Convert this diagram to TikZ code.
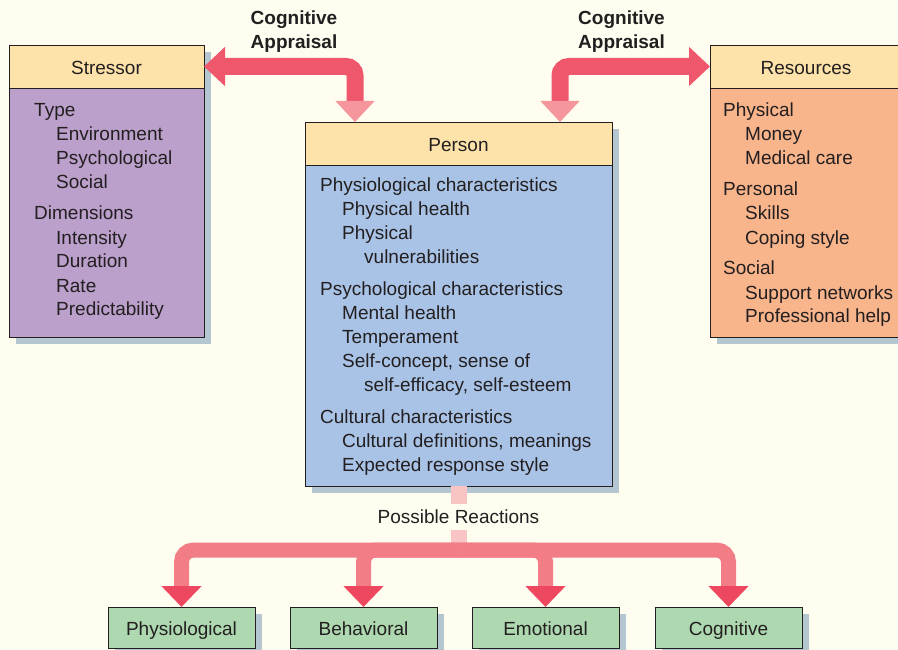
\documentclass[tikz,border=0pt]{standalone}
\usepackage{fontspec}
\setmainfont{Liberation Sans}
\usetikzlibrary{arrows.meta, calc, positioning}

\definecolor{bgcream}{RGB}{255,253,240}
\definecolor{headtan}{RGB}{253,226,170}
\definecolor{stresspurple}{RGB}{187,160,203}
\definecolor{personblue}{RGB}{169,195,230}
\definecolor{resorange}{RGB}{248,180,138}
\definecolor{reactgreen}{RGB}{173,216,176}
\definecolor{shadowgray}{RGB}{180,198,207}
\definecolor{inkgray}{RGB}{35,31,32}
\definecolor{arrowred}{RGB}{239,88,108}
\definecolor{arrowpink}{RGB}{245,150,156}
\definecolor{stempink}{RGB}{248,196,196}
\definecolor{branchred}{RGB}{242,125,135}
\definecolor{tipred}{RGB}{237,72,96}

\begin{document}
\begin{tikzpicture}[x=1pt, y=-1pt,
  every node/.style={font=\fontsize{19}{24}\selectfont, text=inkgray},
  box/.style={draw=inkgray, line width=0.9pt, rectangle, inner sep=0pt, outer sep=0pt,
    text height=16pt, text depth=0pt,
    preaction={fill=shadowgray, transform canvas={xshift=7pt, yshift=-7pt}}},
  item/.style={anchor=base west, inner sep=0pt},
  appraisal/.style={align=center, font=\fontsize{19}{24}\selectfont\bfseries},
  topflow/.style={line width=17pt, arrowred, rounded corners=9pt},
  fanflow/.style={line width=15pt, branchred, rounded corners=12pt,
    -{Triangle[width=39pt, length=21pt, color=tipred]}}]
% Page and background
\useasboundingbox (0,0) rectangle (898,650);
\clip (0,0) rectangle (898,650);
\fill [bgcream] (0,0) rectangle (898,650);
% Stressor box
\node [box, fill=headtan, minimum width=195pt, minimum height=43pt] (stresshead) at (106.5,66.5) {Stressor};
\node [box, fill=stresspurple, minimum width=195pt, minimum height=249pt, below=0pt of stresshead] (stressbody) {};
% Person box
\node [box, fill=headtan, minimum width=307pt, minimum height=43pt] (personhead) at (458.5,143.5) {Person};
\node [box, fill=personblue, minimum width=307pt, minimum height=321pt, below=0pt of personhead] (personbody) {};
% Resources box (runs off the right edge)
\node [box, fill=headtan, minimum width=192pt, minimum height=43pt] (reshead) at (806,66.5) {Resources};
\node [box, fill=resorange, minimum width=192pt, minimum height=249pt, below=0pt of reshead] (resbody) {};
% Box contents
\foreach \txt/\x/\y [count=\i] in {Type/34/110, Environment/56/134, Psychological/56/158,
    Social/56/182, Dimensions/34/213, Intensity/56/237, Duration/56/261, Rate/56/285,
    Predictability/56/309}
  \node [item] (stress\i) at (\x,\y+7) {\txt};
\foreach \txt/\x/\y [count=\i] in {Physiological characteristics/320/185,
    Physical health/342/209, Physical/342/233, vulnerabilities/364/257,
    Psychological characteristics/320/288, Mental health/342/312, Temperament/342/336,
    {Self-concept, sense of}/342/360, {self-efficacy, self-esteem}/364/384,
    Cultural characteristics/320/416, {Cultural definitions, meanings}/342/440,
    Expected response style/342/464}
  \node [item] (person\i) at (\x,\y+7) {\txt};
\foreach \txt/\x/\y [count=\i] in {Physical/723/110, Money/745/134, Medical care/745/158,
    Personal/723/189, Skills/745/213, Coping style/745/237, Social/723/268,
    Support networks/745/292, Professional help/745/316}
  \node [item] (res\i) at (\x,\y+7) {\txt};
% Reaction boxes
\node [box, fill=reactgreen, minimum width=147pt, minimum height=41pt] (physio) at (181.5,627.5) {Physiological};
\node [box, fill=reactgreen, minimum width=147pt, minimum height=41pt] (behave) at (363.5,627.5) {Behavioral};
\node [box, fill=reactgreen, minimum width=147pt, minimum height=41pt] (emote) at (545.5,627.5) {Emotional};
\node [box, fill=reactgreen, minimum width=147pt, minimum height=41pt] (cognit) at (728.5,627.5) {Cognitive};
% Cognitive appraisal arrows
\node [appraisal] (leftappr) at (294,32) {Cognitive\\Appraisal};
\node [appraisal] (rightappr) at (621.5,32) {Cognitive\\Appraisal};
\draw [topflow, {Triangle[width=38pt, length=21pt, color=arrowred]}-{Triangle[width=38pt, length=21pt, color=arrowpink]}]
  (stresshead.east) -| ($(personhead.north west)+(50,0)$);
\draw [topflow, {Triangle[width=38pt, length=21pt, color=arrowpink]}-{Triangle[width=38pt, length=21pt, color=arrowred]}]
  ($(personhead.north east)+(-52,0)$) |- (reshead.west);
% Possible reactions
\coordinate (fork) at ($(personbody.south)+(0,64)$);
\draw [line width=16pt, stempink] (personbody.south) -- (fork);
\foreach \r in {physio, behave, emote, cognit}
  \draw [fanflow] (fork) -| (\r.north);
\node [fill=bgcream, inner xsep=3pt, inner ysep=6pt] (possible) at (458.5,517) {Possible Reactions};
\end{tikzpicture}
\end{document}
